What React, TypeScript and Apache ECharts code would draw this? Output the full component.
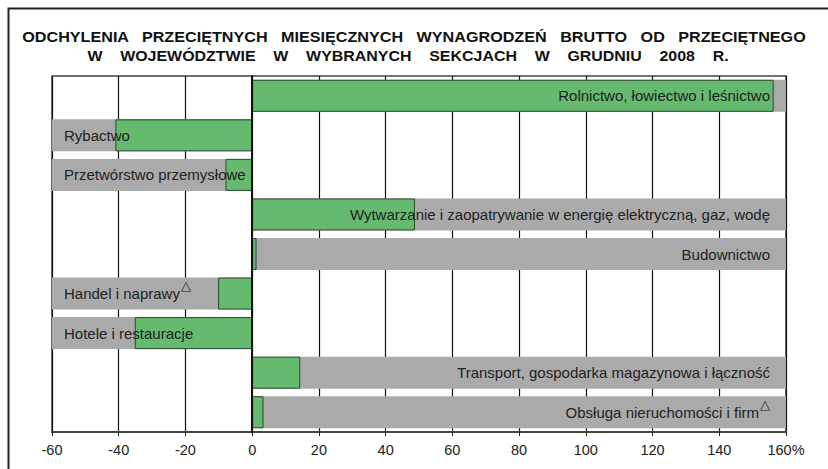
import React, { useEffect, useRef } from "react";
import * as echarts from "echarts";

const categories = [
  "Rolnictwo, łowiectwo i leśnictwo",
  "Rybactwo",
  "Przetwórstwo przemysłowe",
  "Wytwarzanie i zaopatrywanie w energię elektryczną, gaz, wodę",
  "Budownictwo",
  "Handel i naprawy",
  "Hotele i restauracje",
  "Transport, gospodarka magazynowa i łączność",
  "Obsługa nieruchomości i firm",
];
const values = [156.3, -41, -8, 48.8, 1.3, -10.2, -35.2, 14.4, 3.4];
const marked = [false, false, false, false, false, true, false, false, true];
const axisMin = -60;
const axisMax = 160;
const axisStep = 20;
const titleLines = [
  "ODCHYLENIA   PRZECIĘTNYCH   MIESIĘCZNYCH   WYNAGRODZEŃ   BRUTTO   OD   PRZECIĘTNEGO",
  "W    WOJEWÓDZTWIE    W    WYBRANYCH    SEKCJACH    W    GRUDNIU    2008    R.",
];

const GREEN = "#65ba6f";
const GRAY = "#aaaaaa";
const FONT = "'Liberation Sans', Arial, sans-serif";

export default function App() {
  const ref = useRef<HTMLDivElement>(null);
  useEffect(() => {
    if (!ref.current) return;
    const chart = echarts.init(ref.current, undefined, { renderer: "svg" });
    const bgData = values.map((v) => (v >= 0 ? axisMax : axisMin));
    const labelData = values.map((v, i) => {
      const pos = v >= 0;
      const txt = marked[i]
        ? `{t|${categories[i]}}{s|△}`
        : `{t|${categories[i]}}`;
      return {
        value: pos ? axisMax : axisMin,
        label: {
          show: true,
          position: pos ? "insideRight" : "insideLeft",
          distance: pos ? 16 : 12,
          formatter: txt,
        },
      };
    });
    const titleFont = "bold 14.5px 'Liberation Sans', Arial, sans-serif";
    chart.setOption({
      animation: false,
      backgroundColor: "#ffffff",
      graphic: [
        {
          type: "rect",
          shape: { x: 8.5, y: 8.5, width: 1000, height: 1000 },
          style: { fill: "none", stroke: "#222", lineWidth: 2 },
          silent: true,
        },
        {
          type: "text",
          x: 414,
          y: 37,
          scaleX: 1.115,
          style: {
            text: titleLines[0],
            font: titleFont,
            fill: "#111",
            textAlign: "center",
            textVerticalAlign: "middle",
          },
          silent: true,
        },
        {
          type: "text",
          x: 408,
          y: 56,
          scaleX: 1.1,
          style: {
            text: titleLines[1],
            font: titleFont,
            fill: "#111",
            textAlign: "center",
            textVerticalAlign: "middle",
          },
          silent: true,
        },
      ],
      grid: {
        left: 52,
        right: 42,
        top: 76,
        bottom: 37,
        show: true,
        borderColor: "#444",
        borderWidth: 1.5,
        backgroundColor: "#fff",
      },
      xAxis: {
        type: "value",
        min: axisMin,
        max: axisMax,
        interval: axisStep,
        axisLine: { show: true, lineStyle: { color: "#444", width: 2 } },
        axisTick: { show: true, length: 4, lineStyle: { color: "#222", width: 1 } },
        axisLabel: {
          fontFamily: FONT,
          fontSize: 14.5,
          color: "#222",
          margin: 10,
          formatter: (v: number) => (v === axisMax ? `${v}%` : `${v}`),
        },
        splitLine: { show: true, lineStyle: { color: "#111", width: 1.2 } },
      },
      yAxis: {
        type: "category",
        inverse: true,
        data: categories,
        axisLabel: { show: false },
        axisTick: { show: false },
        axisLine: { show: true, onZero: true, lineStyle: { color: "#111", width: 2 } },
        z: 10,
      },
      series: [
        {
          type: "bar",
          data: bgData,
          barWidth: 32,
          barGap: "-100%",
          itemStyle: { color: GRAY },
          silent: true,
          z: 2,
        },
        {
          type: "bar",
          data: values,
          barWidth: 32,
          barGap: "-100%",
          itemStyle: { color: GREEN, borderColor: "#2b4a30", borderWidth: 1 },
          silent: true,
          z: 3,
        },
        {
          type: "bar",
          data: labelData,
          barWidth: 32,
          barGap: "-100%",
          itemStyle: { color: "rgba(0,0,0,0)" },
          silent: true,
          z: 4,
          label: {
            show: true,
            color: "#222",
            rich: {
              t: { fontFamily: FONT, fontSize: 15, color: "#222" },
              s: { fontFamily: FONT, fontSize: 12.5, color: "#222", padding: [0, 0, 15, 1] },
            },
          },
        },
      ],
    });
    return () => chart.dispose();
  }, []);
  return (
    <div
      ref={ref}
      style={{ position: "absolute", left: 0, top: 0, width: 828, height: 469 }}
    />
  );
}
